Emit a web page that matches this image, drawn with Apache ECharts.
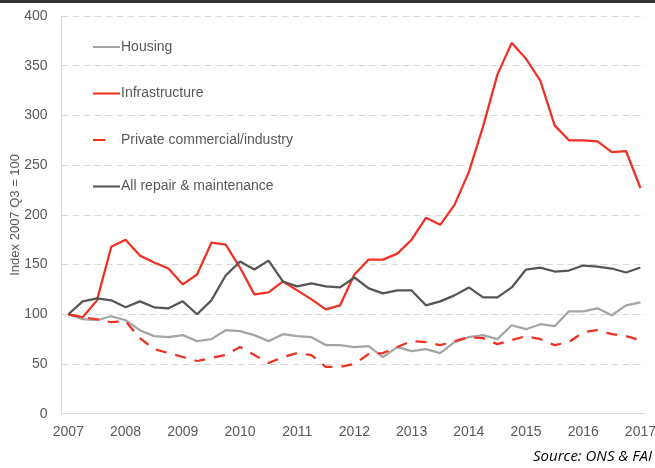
<!DOCTYPE html>
<html>
<head>
<meta charset="utf-8">
<script src="https://cdn.jsdelivr.net/npm/echarts@6/dist/echarts.min.js"></script>
<style>
  html, body { margin: 0; padding: 0; background: #fff; }
  #chart { width: 655px; height: 468px; }
</style>
</head>
<body>
<div id="chart"></div>
<script>
// quarterly series, 2007 Q3 .. 2017 Q3 (index 2007 Q3 = 100)
const startYear = 2007;
const yearLabels = [2007, 2008, 2009, 2010, 2011, 2012, 2013, 2014, 2015, 2016, 2017];
const housing = [100, 95, 94, 98, 94, 84, 78, 77, 79, 73, 75, 84, 83, 79, 73, 80, 78, 77, 69, 69,
  67, 68, 57, 67, 63, 65, 61, 72, 77, 79, 75, 89, 85, 90, 88, 103, 103, 106, 99, 109, 112];
const infrastructure = [100, 97, 114, 168, 175, 159, 152, 146, 130, 140, 172, 170, 147, 120, 122, 133, 124, 115, 105, 109,
  140, 155, 155, 161, 175, 197, 190, 210, 243, 289, 341, 373, 357, 335, 290, 275, 275, 274, 263, 264, 227];
const privateCommercial = [100, 97, 95, 92, 93, 76, 65, 61, 57, 53, 56, 59, 67, 59, 51, 57, 61, 59, 47, 47,
  50, 60, 61, 67, 73, 72, 69, 73, 77, 76, 70, 74, 78, 75, 69, 72, 82, 84, 80, 78, 74];
const repairMaint = [100, 113, 116, 114, 107, 113, 107, 106, 113, 100, 114, 139, 153, 145, 154, 133, 128, 131, 128, 127,
  137, 126, 121, 124, 124, 109, 113, 119, 127, 117, 117, 127, 145, 147, 143, 144, 149, 148, 146, 142, 147];

const pairs = vals => vals.map((v, i) => [startYear + i * 0.25, v]);

const chart = echarts.init(document.getElementById("chart"));
const textColor = "#595959";
const solidIcon = "path://M0,0H26V2H0Z";
const dashIcon = "path://M0,0H12V2H0Z M25.9,0H26V2H25.9Z";

chart.setOption({
  animation: false,
  grid: { left: 61.5, right: 10, top: 16, bottom: 54.3, outerBoundsMode: "none", containLabel: false },
  legend: {
    orient: "vertical",
    left: 88,
    top: 35,
    itemWidth: 27,
    itemHeight: 2.5,
    itemGap: 32.5,
    textStyle: { color: textColor, fontSize: 14, fontFamily: "Liberation Sans, Arial", padding: [0, 0, 0, -4] },
    data: [
      { name: "Housing", icon: solidIcon },
      { name: "Infrastructure", icon: solidIcon },
      { name: "Private commercial/industry", icon: dashIcon },
      { name: "All repair & maintenance", icon: solidIcon }
    ]
  },
  xAxis: {
    type: "value",
    min: 2006.88,
    max: 2017.08,
    axisLine: { show: true, lineStyle: { color: "#d9d9d9", width: 1 } },
    axisTick: { show: false },
    splitLine: { show: false },
    axisLabel: {
      customValues: yearLabels,
      color: textColor,
      fontSize: 14,
      fontFamily: "Liberation Sans, Arial",
      margin: 11,
      formatter: v => String(Math.round(v))
    }
  },
  yAxis: {
    type: "value",
    min: 0,
    max: 400,
    interval: 50,
    name: "Index 2007 Q3 = 100",
    nameLocation: "middle",
    nameGap: 40,
    nameMoveOverlap: false,
    nameTextStyle: { color: textColor, fontSize: 13, fontFamily: "Liberation Sans, Arial" },
    axisLine: { show: true, lineStyle: { color: "#d9d9d9", width: 1 } },
    axisTick: { show: false },
    axisLabel: { color: textColor, fontSize: 14, fontFamily: "Liberation Sans, Arial", margin: 14 },
    splitLine: { lineStyle: { color: "#d9d9d9", type: [7, 4], width: 1 } }
  },
  series: [
    {
      name: "Housing",
      type: "line",
      symbol: "none",
      lineStyle: { color: "#a5a5a5", width: 2.25 },
      itemStyle: { color: "#a5a5a5" },
      data: pairs(housing)
    },
    {
      name: "Infrastructure",
      type: "line",
      symbol: "none",
      lineStyle: { color: "#ee3124", width: 2.25 },
      itemStyle: { color: "#ee3124" },
      data: pairs(infrastructure)
    },
    {
      name: "Private commercial/industry",
      type: "line",
      symbol: "none",
      lineStyle: { color: "#ee3124", width: 2.25, type: [11, 9] },
      itemStyle: { color: "#ee3124" },
      data: pairs(privateCommercial)
    },
    {
      name: "All repair & maintenance",
      type: "line",
      symbol: "none",
      lineStyle: { color: "#555555", width: 2.25 },
      itemStyle: { color: "#555555" },
      data: pairs(repairMaint)
    }
  ],
  graphic: [
    {
      type: "rect",
      left: 0,
      top: 0,
      shape: { width: 655, height: 3 },
      style: { fill: "#333333" }
    },
    {
      type: "text",
      right: 3,
      top: 449,
      style: {
        text: "Source: ONS & FAI",
        fill: "#000",
        font: "italic 15px 'Open Sans', 'Noto Sans', sans-serif"
      }
    }
  ]
});
</script>
</body>
</html>
